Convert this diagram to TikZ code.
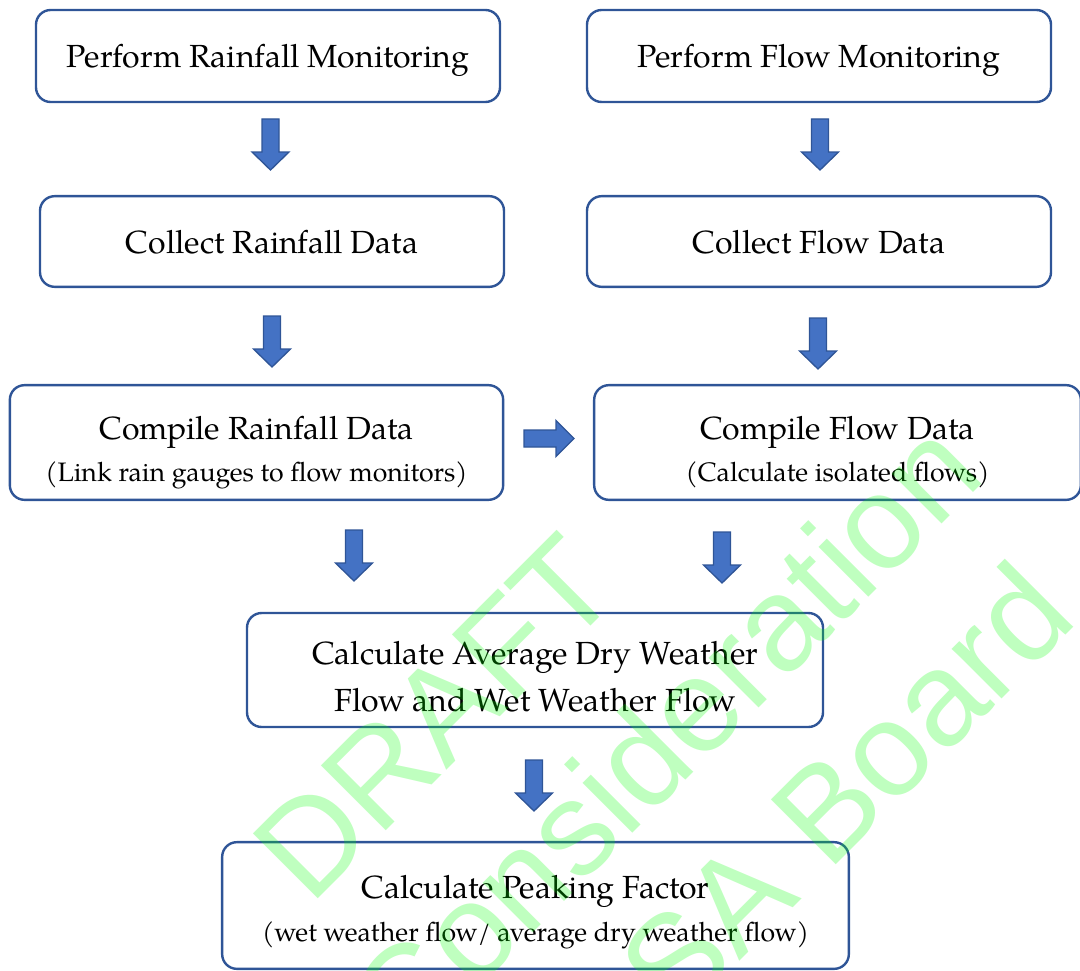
\documentclass[tikz,border=0pt]{standalone}
\usepackage{fontspec}
\newfontfamily\wmfont{Liberation Sans}
\newfontfamily\pala{TeX Gyre Pagella}
\newcommand{\subline}{\fontsize{20}{32}\selectfont}
\newcommand{\topstrut}[1]{\rule{0pt}{#1}}
\definecolor{boxblue}{RGB}{47,85,151}
\definecolor{arrowfill}{RGB}{68,114,196}
\definecolor{wmgreen}{RGB}{0,255,0}
\tikzset{
stepbox/.style={draw=boxblue, line width=1.8pt, rounded corners=11pt, align=center, inner sep=0pt, text depth=0pt, font=\pala\fontsize{24}{32}\selectfont},
wmark/.style={rotate=45, anchor=base west, inner sep=0pt, text=wmgreen, text opacity=0.25, font=\wmfont\fontsize{100}{125}\selectfont},
downarr/.pic={\draw[draw=boxblue, fill=arrowfill, line width=1pt] (-8.5,0) -- (8.5,0) -- (8.5,-33) -- (18.5,-33) -- (0,-51) -- (-18.5,-33) -- (-8.5,-33) -- cycle;},
rightarr/.pic={\draw[draw=boxblue, fill=arrowfill, line width=1pt] (0,-8.5) -- (32,-8.5) -- (32,-18) -- (50,0) -- (32,18) -- (32,8.5) -- (0,8.5) -- cycle;}
}

\begin{document}
\begin{tikzpicture}[x=0.75pt,y=0.75pt,yscale=-1,xscale=1]
\useasboundingbox (0,0) rectangle (1080,970);
\clip (0,0) rectangle (1080,970);

% Rainfall column
\node[stepbox, minimum width=348pt, minimum height=69pt] (rainmon) at (268,56) {Perform Rainfall Monitoring};
\node[stepbox, minimum width=348pt, minimum height=68pt] (raincol) at (272,241.5) {Collect Rainfall Data};
\node[stepbox, minimum width=370pt, minimum height=86pt] (raincomp) at (256.5,442.5) {\topstrut{27pt}Compile Rainfall Data\\{\subline (Link rain gauges to flow monitors)}};

% Flow column
\node[stepbox, minimum width=348pt, minimum height=69pt] (flowmon) at (819,56) {Perform Flow Monitoring};
\node[stepbox, minimum width=348pt, minimum height=68pt] (flowcol) at (819,241.5) {Collect Flow Data};
\node[stepbox, minimum width=365pt, minimum height=86pt] (flowcomp) at (837.5,442.5) {\topstrut{27pt}Compile Flow Data\\{\subline (Calculate isolated flows)}};

% Results
\node[stepbox, minimum width=432pt, minimum height=85.5pt, font=\pala\fontsize{24}{35}\selectfont] (avgflow) at (535,670) {\topstrut{27pt}Calculate Average Dry Weather\\Flow and Wet Weather Flow};
\node[stepbox, minimum width=470pt, minimum height=95pt] (peak) at (535.5,905.5) {\topstrut{22pt}Calculate Peaking Factor\\{\subline (wet weather flow/ average dry weather flow)}};

% Block arrows
\pic at (270.5,119) {downarr};
\pic at (820,119) {downarr};
\pic at (272,316) {downarr};
\pic at (818,318) {downarr};
\pic at (524,438.5) {rightarr};
\pic at (354,530) {downarr};
\pic at (722,532) {downarr};
\pic at (534,760) {downarr};

% Watermark
\node[wmark] (wm1) at (310,907) {DRAFT};
\node[wmark] (wm2) at (406,1060) {Consideration};
\node[wmark] (wm3) at (676,1025) {SA Board};

\end{tikzpicture}
\end{document}
